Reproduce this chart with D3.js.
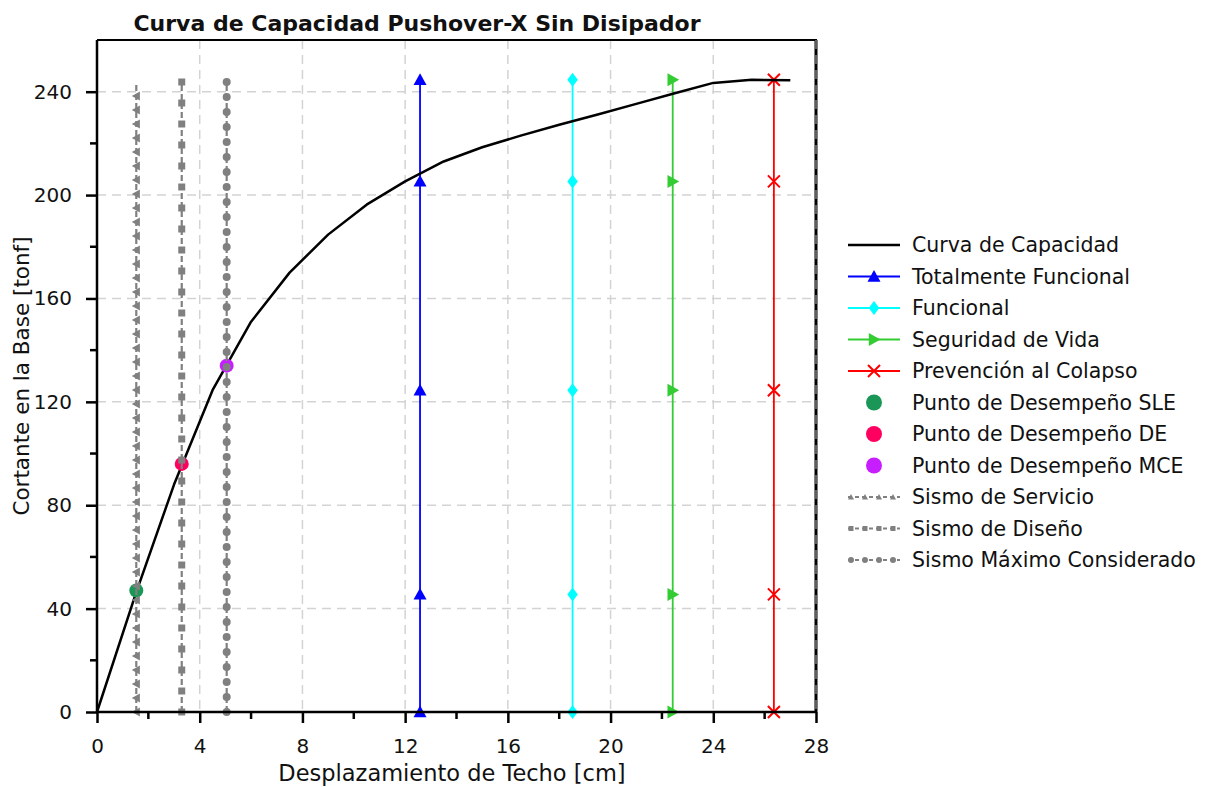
<!DOCTYPE html>
<html><head><meta charset="utf-8">
<script src="https://cdn.jsdelivr.net/npm/d3@7"></script>
<style>
body{margin:0;background:#fff}
text{font-family:"DejaVu Sans",sans-serif;fill:#111}
</style></head>
<body><svg id="c" width="1213" height="787"></svg>
<script>
// ---- data ----
const title = "Curva de Capacidad Pushover-X Sin Disipador";
const xLabel = "Desplazamiento de Techo [cm]";
const yLabel = "Cortante en la Base [tonf]";
const curveX = [0, 1.5, 3.0, 4.5, 6.0, 7.5, 9.0, 10.5, 12.0, 13.5, 15.0, 16.5, 18.0, 19.5, 21.0, 22.5, 24.0, 25.5, 27.0];
const curveY = [0, 45.5, 88, 124.5, 151, 170, 184.7, 196.3, 205.3, 213, 218.5, 223, 227.2, 231.2, 235.3, 239.4, 243.4, 244.6, 244.4];
const limitNames = ["Totalmente Funcional", "Funcional", "Seguridad de Vida", "Prevención al Colapso"];
const limitX = [12.58, 18.52, 22.42, 26.36];
const limitMarksY = [0, 45.5, 124.5, 205.3, 244.6];
const perfNames = ["Punto de Desempeño SLE", "Punto de Desempeño DE", "Punto de Desempeño MCE"];
const perfX = [1.53, 3.30, 5.05];
const perfY = [47, 96, 134];
const quakeNames = ["Sismo de Servicio", "Sismo de Diseño", "Sismo Máximo Considerado"];
const quakeX = [1.53, 3.30, 5.05];
const quakeTopY = [243.5, 244.6, 244.6];
const xTicks = [0, 4, 8, 12, 16, 20, 24, 28];
const yTicks = [0, 40, 80, 120, 160, 200, 240];

// ---- styles ----
const limitColors = ["#0000ff", "#00ffff", "#33cc33", "#ff0000"];
const limitShapes = ["triUp", "diamond", "triRight", "cross"];
const limitSizes = [13, 14, 13, 12];
const perfColors = ["#1a9656", "#ff0060", "#c61eff"];
const quakeShapes = ["triLeft", "square", "circle"];
const quakeSizes = [9, 7, 8];
const quakeSpacing = [14, 21, 15];
const gray = "#808080";

const svg = d3.select("#c");
const L = 97, R = 816, T = 40, B = 712;
const x = d3.scaleLinear().domain([0, 28]).range([L, R]);
const y = d3.scaleLinear().domain([0, 260]).range([B, T]);

function shapePath(s, size) {
  const h = size / 2;
  switch (s) {
    case "triUp": return `M0,${-h}L${h},${h*0.8}L${-h},${h*0.8}Z`;
    case "triRight": return `M${h},0L${-h*0.8},${h}L${-h*0.8},${-h}Z`;
    case "triLeft": return `M${-h},0L${h*0.8},${h}L${h*0.8},${-h}Z`;
    case "diamond": return `M0,${-h}L${h*0.75},0L0,${h}L${-h*0.75},0Z`;
    case "square": return `M${-h},${-h}H${h}V${h}H${-h}Z`;
    case "cross": return `M${-h},${-h}L${h},${h}M${-h},${h}L${h},${-h}`;
    case "circle": return d3.symbol(d3.symbolCircle, Math.PI * h * h)();
  }
}
function drawMarker(g, s, cx, cy, size, color) {
  const p = g.append("path").attr("d", shapePath(s, size)).attr("transform", `translate(${cx},${cy})`);
  if (s === "cross") p.attr("fill", "none").attr("stroke", color).attr("stroke-width", 2);
  else p.attr("fill", color).attr("stroke", "none");
}

// grid
const grid = svg.append("g");
xTicks.filter(d => d > 0).forEach(d => grid.append("line").attr("x1", x(d)).attr("x2", x(d)).attr("y1", T).attr("y2", B)
  .attr("stroke", "#d3d3d3").attr("stroke-width", 1.5).attr("stroke-dasharray", "9,6"));
yTicks.filter(d => d > 0).forEach(d => grid.append("line").attr("x1", L).attr("x2", R).attr("y1", y(d)).attr("y2", y(d))
  .attr("stroke", "#d3d3d3").attr("stroke-width", 1.5).attr("stroke-dasharray", "9,6"));

// limit state vertical lines
limitX.forEach((lx, i) => {
  const g = svg.append("g");
  g.append("line").attr("x1", x(lx)).attr("x2", x(lx)).attr("y1", y(0)).attr("y2", y(d3.max(limitMarksY)))
    .attr("stroke", limitColors[i]).attr("stroke-width", 1.8);
  limitMarksY.forEach(my => drawMarker(g, limitShapes[i], x(lx), y(my), limitSizes[i], limitColors[i]));
});

// capacity curve
svg.append("path").datum(curveX.map((d, i) => [d, curveY[i]]))
  .attr("d", d3.line().x(d => x(d[0])).y(d => y(d[1])))
  .attr("fill", "none").attr("stroke", "#000").attr("stroke-width", 2.5).attr("stroke-linejoin", "round");

// performance points
perfX.forEach((px, i) => svg.append("circle").attr("cx", x(px)).attr("cy", y(perfY[i])).attr("r", 7).attr("fill", perfColors[i]));

// seismic demand lines
quakeX.forEach((qx, i) => {
  const g = svg.append("g");
  const y0 = y(0), y1 = y(quakeTopY[i]);
  g.append("line").attr("x1", x(qx)).attr("x2", x(qx)).attr("y1", y0).attr("y2", y1)
    .attr("stroke", gray).attr("stroke-width", 2.2).attr("stroke-dasharray", "6,3");
  const len = y0 - y1;
  d3.range(0, len + 0.01, quakeSpacing[i]).forEach(off => drawMarker(g, quakeShapes[i], x(qx), y0 - off, quakeSizes[i], gray));
});

// axes
const ax = svg.append("g");
const xAxis = d3.axisBottom(x).tickValues(xTicks).tickSize(11).tickPadding(16).tickFormat(d3.format("d"));
const gx = ax.append("g").attr("transform", `translate(0,${B})`).call(xAxis);
const yAxis = d3.axisLeft(y).tickValues(yTicks).tickSize(11).tickPadding(14).tickFormat(d3.format("d"));
const gy = ax.append("g").attr("transform", `translate(${L},0)`).call(yAxis);
[gx, gy].forEach(g => {
  g.select(".domain").remove();
  g.selectAll(".tick line").attr("stroke", "#000").attr("stroke-width", 2.5);
  g.selectAll(".tick text").attr("font-size", 20).attr("fill", "#111").style("font-family", '"DejaVu Sans",sans-serif');
});
// minor ticks
d3.range(2, 28, 4).forEach(d => ax.append("line").attr("x1", x(d)).attr("x2", x(d)).attr("y1", B).attr("y2", B + 7).attr("stroke", "#000").attr("stroke-width", 2.5));
d3.range(20, 260, 40).forEach(d => ax.append("line").attr("x1", L).attr("x2", L - 7).attr("y1", y(d)).attr("y2", y(d)).attr("stroke", "#000").attr("stroke-width", 2.5));
// spines
ax.append("line").attr("x1", L).attr("x2", R).attr("y1", B).attr("y2", B).attr("stroke", "#000").attr("stroke-width", 2.5);
ax.append("line").attr("x1", L).attr("x2", L).attr("y1", T).attr("y2", B + 1).attr("stroke", "#000").attr("stroke-width", 2.5);
ax.append("line").attr("x1", L).attr("x2", R + 1).attr("y1", T).attr("y2", T).attr("stroke", "#000").attr("stroke-width", 2);
ax.append("line").attr("x1", R).attr("x2", R).attr("y1", T).attr("y2", B).attr("stroke", "#000").attr("stroke-width", 3);
ax.append("line").attr("x1", R).attr("x2", R).attr("y1", T).attr("y2", B).attr("stroke", "#bbb").attr("stroke-width", 1).attr("stroke-dasharray", "9,6");

// labels
svg.append("text").attr("x", 417).attr("y", 31).attr("text-anchor", "middle").attr("font-size", 22).attr("font-weight", "bold").text(title);
svg.append("text").attr("x", 452).attr("y", 781).attr("text-anchor", "middle").attr("font-size", 22.5).text(xLabel);
svg.append("text").attr("transform", `translate(29,376) rotate(-90)`).attr("text-anchor", "middle").attr("font-size", 21.5).text(yLabel);

// legend
const lg = svg.append("g");
const lx0 = 848, lx1 = 900, tx = 912, ly0 = 245, dy = 31.5;
let row = 0;
function legText(t, r) { lg.append("text").attr("x", tx).attr("y", ly0 + r * dy).attr("dy", "0.35em").attr("font-size", 20.5).text(t); }
lg.append("line").attr("x1", lx0).attr("x2", lx1).attr("y1", ly0).attr("y2", ly0).attr("stroke", "#000").attr("stroke-width", 2.5);
legText("Curva de Capacidad", row++);
limitNames.forEach((n, i) => {
  const yy = ly0 + row * dy;
  lg.append("line").attr("x1", lx0).attr("x2", lx1).attr("y1", yy).attr("y2", yy).attr("stroke", limitColors[i]).attr("stroke-width", 1.8);
  drawMarker(lg, limitShapes[i], (lx0 + lx1) / 2, yy, limitSizes[i], limitColors[i]);
  legText(n, row++);
});
perfNames.forEach((n, i) => {
  const yy = ly0 + row * dy;
  lg.append("circle").attr("cx", (lx0 + lx1) / 2).attr("cy", yy).attr("r", 8).attr("fill", perfColors[i]);
  legText(n, row++);
});
const legQuakeShapes = ["triUp", "square", "circle"];
quakeNames.forEach((n, i) => {
  const yy = ly0 + row * dy;
  lg.append("line").attr("x1", lx0).attr("x2", lx1).attr("y1", yy).attr("y2", yy).attr("stroke", gray).attr("stroke-width", 1.8).attr("stroke-dasharray", "4,3");
  d3.range(4).forEach(k => drawMarker(lg, legQuakeShapes[i], lx0 + 3 + k * 14, yy, legQuakeShapes[i] === "square" ? 5 : 6, gray));
  legText(n, row++);
});
</script>
</body></html>
